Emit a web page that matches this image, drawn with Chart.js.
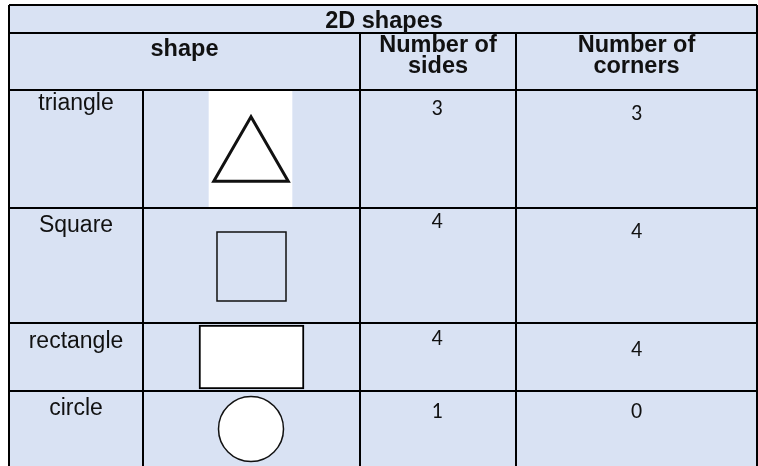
<!DOCTYPE html>
<html>
<head>
<meta charset="utf-8">
<script src="https://cdn.jsdelivr.net/npm/chart.js@4"></script>
<style>
  html, body { margin: 0; padding: 0; background: #ffffff; }
  #wrap { width: 758px; height: 466px; }
</style>
</head>
<body>
<div id="wrap"><canvas id="shapesTable" width="758" height="466"></canvas></div>
<script>
// table content
const title = '2D shapes';
const headers = ['shape', 'Number of\nsides', 'Number of\ncorners'];
const shapeNames = ['triangle', 'Square', 'rectangle', 'circle'];
const sidesValues = [3, 4, 4, 1];
const cornersValues = [3, 4, 4, 0];

// layout (pixels on the x / y scales); text offsets are baselines from the row top
const colEdges = [9, 143, 360, 516, 757];
const rowEdges = [5, 33, 90, 208, 323, 391, 470];
const imageCenterX = 251;
const headBase = [23, 19, 19];
const labelBase = [20, 24, 25, 24];
const sidesBase = [25, 20, 22, 27];
const cornersBase = [30, 30, 33, 27];

const BG = '#D9E2F3';

const rowTop = i => rowEdges[i + 2];
const rowMid = i => (rowEdges[i + 2] + rowEdges[i + 3]) / 2;

// shape drawings: triangle / square / circle as point styles, rectangle + image backdrop as floating bars
const triR = 43;
const pointShapes = [
  { x: imageCenterX, y: rowMid(0) + triR / 4, style: 'triangle', r: triR, w: 3, fill: 'rgba(0,0,0,0)' },
  { x: imageCenterX + 0.5, y: rowMid(1) + 1, style: 'rect', r: 48.8, w: 1.5, fill: 'rgba(0,0,0,0)' },
  { x: imageCenterX, y: rowMid(3) - 1.5, style: 'circle', r: 32.5, w: 1.5, fill: '#ffffff' }
];

const tablePlugin = {
  id: 'tablePlugin',
  beforeDraw(chart) {
    const { ctx, scales: { x, y } } = chart;
    ctx.save();
    ctx.fillStyle = BG;
    const x0 = x.getPixelForValue(colEdges[0]);
    const x1 = x.getPixelForValue(colEdges[4]);
    const y0 = y.getPixelForValue(rowEdges[0]);
    const y1 = y.getPixelForValue(rowEdges[6]);
    ctx.fillRect(x0, y0, x1 - x0, y1 - y0);
    ctx.restore();
  },
  afterDatasetsDraw(chart) {
    const { ctx, scales: { x, y } } = chart;
    const px = v => x.getPixelForValue(v);
    const py = v => y.getPixelForValue(v);
    ctx.save();
    ctx.strokeStyle = '#000';

    // horizontal rules
    ctx.lineWidth = 2;
    rowEdges.slice(0, 6).forEach(r => {
      ctx.beginPath();
      ctx.moveTo(px(colEdges[0]), py(r));
      ctx.lineTo(px(colEdges[4]), py(r));
      ctx.stroke();
    });
    // outer verticals
    [colEdges[0], colEdges[4]].forEach(c => {
      ctx.beginPath();
      ctx.moveTo(px(c), py(rowEdges[0]));
      ctx.lineTo(px(c), py(rowEdges[6]));
      ctx.stroke();
    });
    // inner verticals
    [[colEdges[1], rowEdges[2]], [colEdges[2], rowEdges[1]], [colEdges[3], rowEdges[1]]].forEach(([c, top]) => {
      ctx.beginPath();
      ctx.moveTo(px(c), py(top));
      ctx.lineTo(px(c), py(rowEdges[6]));
      ctx.stroke();
    });

    ctx.fillStyle = '#111';
    ctx.textAlign = 'center';
    ctx.textBaseline = 'alphabetic';

    // title row
    ctx.font = 'bold 23.5px "Liberation Sans", Arial, sans-serif';
    ctx.fillText(title, px((colEdges[0] + colEdges[4]) / 2 + 1), py(rowEdges[0] + headBase[0]));

    // header row
    ctx.font = 'bold 23.5px "Liberation Sans", Arial, sans-serif';
    const headCols = [[colEdges[0], colEdges[2]], [colEdges[2], colEdges[3]], [colEdges[3], colEdges[4]]];
    headers.forEach((h, i) => {
      const cx = px((headCols[i][0] + headCols[i][1]) / 2);
      const first = i === 0 ? rowEdges[1] + 23 : rowEdges[1] + headBase[i];
      h.split('\n').forEach((line, j) => {
        ctx.fillText(line, cx, py(first + j * 21));
      });
    });

    // body rows
    shapeNames.forEach((name, i) => {
      ctx.font = '23px "Liberation Sans", Arial, sans-serif';
      ctx.fillText(name, px((colEdges[0] + colEdges[1]) / 2), py(rowTop(i) + labelBase[i]));
      ctx.font = '22px Carlito, Lato, "Open Sans", sans-serif';
      ctx.fillText(String(sidesValues[i]), px((colEdges[2] + colEdges[3]) / 2 - 1), py(rowTop(i) + sidesBase[i]));
      ctx.fillText(String(cornersValues[i]), px((colEdges[3] + colEdges[4]) / 2), py(rowTop(i) + cornersBase[i]));
    });
    ctx.restore();
  }
};

new Chart(document.getElementById('shapesTable'), {
  type: 'scatter',
  data: {
    datasets: [
      {
        // white image backdrop behind the triangle
        type: 'bar',
        data: [{ x: imageCenterX - 0.5, y: [rowEdges[2], rowEdges[3]] }],
        backgroundColor: '#ffffff',
        borderWidth: 0,
        barThickness: 83,
        grouped: false,
        order: 3
      },
      {
        // rectangle
        type: 'bar',
        data: [{ x: imageCenterX + 0.5, y: [rowEdges[4] + 2, rowEdges[5] - 2] }],
        backgroundColor: '#ffffff',
        borderColor: '#000',
        borderWidth: 2,
        borderSkipped: false,
        barThickness: 105,
        grouped: false,
        order: 2
      },
      {
        type: 'scatter',
        data: pointShapes.map(s => ({ x: s.x, y: s.y })),
        pointStyle: pointShapes.map(s => s.style),
        pointRadius: pointShapes.map(s => s.r),
        pointHoverRadius: pointShapes.map(s => s.r),
        pointBorderWidth: pointShapes.map(s => s.w),
        pointBackgroundColor: pointShapes.map(s => s.fill),
        pointBorderColor: '#111',
        clip: false,
        order: 1
      }
    ]
  },
  options: {
    responsive: false,
    animation: false,
    events: [],
    layout: { padding: 0, autoPadding: false },
    plugins: { legend: { display: false }, tooltip: { enabled: false } },
    scales: {
      x: { type: 'linear', min: 0, max: 758, offset: false, display: false },
      y: { type: 'linear', min: 0, max: 466, reverse: true, display: false }
    }
  },
  plugins: [tablePlugin]
});
</script>
</body>
</html>
